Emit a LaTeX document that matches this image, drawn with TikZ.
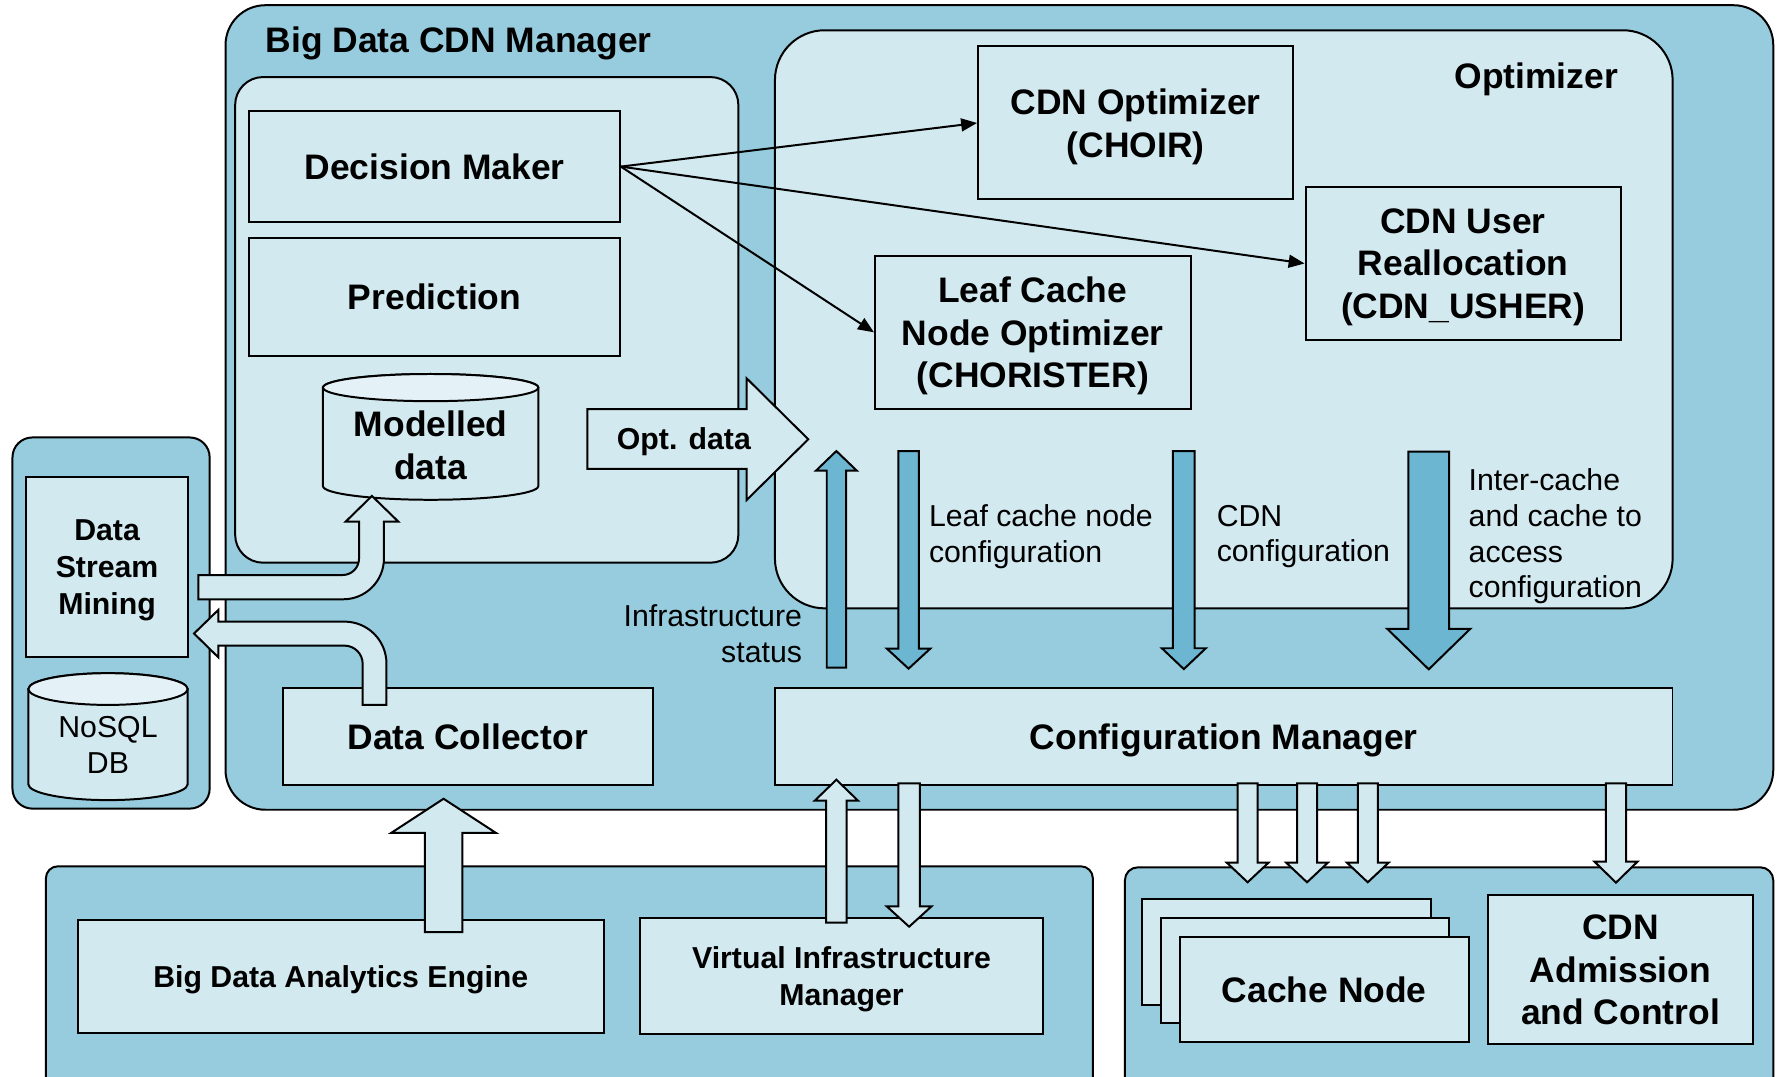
\documentclass[tikz,border=0pt]{standalone}
\usepackage{fontspec}
\setmainfont{Liberation Sans}
\usetikzlibrary{arrows.meta}
\definecolor{bd-outer}{RGB} {150, 204, 222}
\definecolor{bd-inner}{RGB} {211, 233, 240}
\definecolor{bd-dark}{RGB}  {108, 182, 210}
\definecolor{bd-top}{RGB}   {228, 242, 247}

% x, tail y, head base y, tip y, shaft half width, head half width, fill
\newcommand{\blockarrow}[7]{%
	\draw[flow, fill=#7] ({#1-#5},#2) -- ({#1-#5},#3) -- ({#1-#6},#3) -- (#1,#4)
		-- ({#1+#6},#3) -- ({#1+#5},#3) -- ({#1+#5},#2) -- cycle;}

\begin{document}
\begin{tikzpicture}[x=0.02cm, y=-0.02cm,
	group/.style={draw, line width=1pt},
	box/.style={draw, line width=1pt, fill=bd-inner, inner sep=0pt, align=center, text depth=0pt,
		font=\bfseries\fontsize{17.8}{21.5}\selectfont},
	smallbox/.style={box, font=\bfseries\fontsize{15.2}{18.6}\selectfont},
	heading/.style={inner sep=0pt, font=\bfseries\fontsize{17.8}{21.5}\selectfont},
	note/.style={inner sep=0pt, font=\fontsize{15.2}{18}\selectfont},
	flow/.style={draw, line width=1pt, line join=miter},
	order/.style={line width=1pt, -{Triangle[length=8pt, width=6.5pt]}}]

\useasboundingbox (0,0) rectangle (1568,950.3);
\clip (0,0) rectangle (1568,950.3);

% containers
\draw[group, fill=bd-outer, rounded corners=20pt] (199,4.6) rectangle (1564.7,714.5);
\draw[group, fill=bd-outer, rounded corners=10pt] (11,386) rectangle (185,713.5);
\draw[group, fill=bd-outer, rounded corners=6pt] (40.5,764.4) rectangle (964.3,1000);
\draw[group, fill=bd-outer, rounded corners=6.5pt] (992.6,765.3) rectangle (1564.7,1000);
\draw[group, fill=bd-inner, rounded corners=14pt] (207.5,68) rectangle (651.5,496.5);
\draw[group, fill=bd-inner, rounded corners=25pt] (683.8,26.7) rectangle (1475.9,536.8);

\node[heading, anchor=base west] (mgr) at (234,46.5) {Big Data CDN Manager};
\node[heading, anchor=base east] (opt) at (1428,78.5) {Optimizer};

% blocks
\node[box, minimum width=6.54cm, minimum height=1.96cm] (dm) at (383.5,147) {Decision Maker};
\node[box, minimum width=6.54cm, minimum height=2.08cm] (pred) at (383.5,262) {Prediction};
\node[box, minimum width=5.56cm, minimum height=2.7cm] (choir) at (1002,108.5) {CDN Optimizer\\(CHOIR)};
\node[box, minimum width=5.56cm, minimum height=2.7cm] (usher) at (1291,232.5) {CDN User\\Reallocation\\(CDN\_USHER)};
\node[box, minimum width=5.57cm, minimum height=2.71cm] (leaf) at (911.3,293.25) {Leaf Cache\\Node Optimizer\\(CHORISTER)};
\node[box, minimum width=15.84cm, minimum height=1.716cm] (cm) at (1079.85,649.6) {Configuration Manager};
\node[box, minimum width=6.53cm, minimum height=1.706cm] (dc) at (412.75,649.65) {Data Collector};
\node[smallbox, minimum width=2.86cm, minimum height=3.18cm] (dsm) at (94.5,500.5) {Data\\Stream\\Mining};
\node[smallbox, minimum width=9.29cm, minimum height=2.006cm] (bdae) at (300.7,861.55) {Big Data Analytics Engine};
\node[smallbox, minimum width=7.114cm, minimum height=2.05cm] (vim) at (742.55,861.05) {Virtual Infrastructure\\Manager};
\node[box, minimum width=5.1cm, minimum height=1.86cm] (cn3) at (1135,840) {};
\node[box, minimum width=5.1cm, minimum height=1.86cm] (cn2) at (1151.5,856.5) {};
\node[box, minimum width=5.1cm, minimum height=1.86cm] (cn) at (1168.5,873) {Cache Node};
\node[box, minimum width=4.686cm, minimum height=2.636cm] (adm) at (1429.85,855.6) {CDN\\Admission\\and Control};

% data stores
\draw[group, fill=bd-inner] (285,342) -- (285,429)
	arc[start angle=180, end angle=360, x radius=1.9cm, y radius=0.24cm] -- (475,342)
	arc[start angle=0, end angle=180, x radius=1.9cm, y radius=0.24cm] -- cycle;
\draw[group, fill=bd-top] (380,342) ellipse [x radius=1.9cm, y radius=0.24cm];
\node[heading, align=center] (model) at (380,393) {Modelled\\data};

\draw[group, fill=bd-inner] (25,608) -- (25,692)
	arc[start angle=180, end angle=360, x radius=1.406cm, y radius=0.28cm] -- (165.6,608)
	arc[start angle=0, end angle=180, x radius=1.406cm, y radius=0.28cm] -- cycle;
\draw[group, fill=bd-top] (95.3,608) ellipse [x radius=1.406cm, y radius=0.28cm];
\node[note, align=center] (nosql) at (95.3,657) {NoSQL\\DB};

% decisions
\draw[order] (dm.east) -- (choir.west);
\draw[order] (dm.east) -- (usher.west);
\draw[order] (dm.east) -- (leaf.west);

% configuration flows
\blockarrow{738}{589}{415.3}{398}{8.5}{18}{bd-dark}
\blockarrow{801.7}{398}{572.3}{590}{9}{19.2}{bd-dark}
\blockarrow{1044.6}{398}{572}{590.4}{9.6}{19.4}{bd-dark}
\blockarrow{1260.7}{398.5}{555}{590.6}{18}{36.5}{bd-dark}

\blockarrow{391.4}{822.4}{735}{704.8}{16.6}{46.3}{bd-inner}
\blockarrow{738}{814}{706.4}{688}{9}{19}{bd-inner}
\blockarrow{802.2}{691.3}{799.8}{817.7}{9.5}{19.7}{bd-inner}
\foreach \x in {1100.9, 1153.3, 1206.9} {\blockarrow{\x}{691.3}{761.2}{778.5}{8.8}{18.4}{bd-inner}}
\blockarrow{1425.9}{691.3}{760.3}{778.8}{9}{19}{bd-inner}

\draw[flow, fill=bd-inner] (518.2,360.9) -- (658.8,360.9) -- (658.8,333.8) -- (713.2,387.6)
	-- (658.8,441.2) -- (658.8,413.8) -- (518.2,413.8) -- cycle;
\node[note, font=\bfseries\fontsize{15.2}{18}\selectfont, anchor=base west] (optdata) at (544,397) {Opt. data};

\draw[flow, fill=bd-inner] (175,507.4) -- (175,528.8) -- (302.8,528.8)
	arc[start angle=270, end angle=360, radius=0.72cm] -- (338.8,460.3) -- (351.5,460.3)
	-- (328.2,437.6) -- (305,460.3) -- (316.8,460.3) -- (316.8,492.9)
	arc[start angle=0, end angle=-90, radius=0.29cm] -- cycle;
\draw[flow, fill=bd-inner] (341,622) -- (341,585.5)
	arc[start angle=0, end angle=90, radius=0.74cm] -- (192.6,548.5) -- (192.6,538.2)
	-- (171.2,559) -- (192.6,580) -- (192.6,569.7) -- (304,569.7)
	arc[start angle=90, end angle=0, radius=0.32cm] -- (320,622) -- cycle;

\node[note, align=left, anchor=west] (leafcfg) at (819.4,473.5) {Leaf cache node\\configuration};
\node[note, align=left, anchor=west] (cdncfg) at (1073.3,473.5) {CDN\\configuration};
\node[note, align=left, anchor=west] (intercfg) at (1295.6,473.3) {Inter-cache\\and cache to\\access\\configuration};
\node[note, align=right, anchor=east] (infra) at (708,559) {Infrastructure\\status};

\end{tikzpicture}
\end{document}
